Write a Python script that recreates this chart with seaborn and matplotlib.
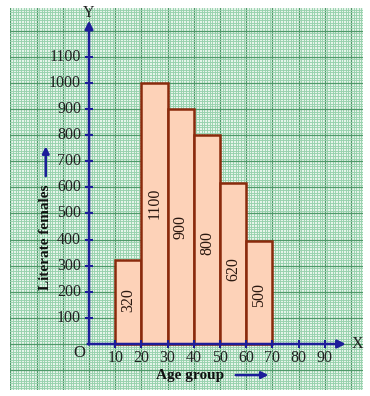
import matplotlib
matplotlib.use("Agg")
import matplotlib.pyplot as plt
import seaborn as sns
from matplotlib.ticker import MultipleLocator

# data
age_edges = [10, 20, 30, 40, 50, 60, 70]
bar_heights = [320, 1000, 900, 800, 615, 395]
bar_labels = ['320', '1100', '900', '800', '620', '500']
label_y = [169, 540, 448, 387, 287, 188]
y_ticks = [100, 200, 300, 400, 500, 600, 700, 800, 900, 1000, 1100]
x_ticks = [10, 20, 30, 40, 50, 60, 70, 80, 90]

plt.rcParams['font.family'] = ['Liberation Serif', 'DejaVu Serif']

navy = '#1d1d9a'
paper = '#e6f4ea'
minor_col = '#97d1ad'
major_col = '#4f9a6a'

W, H = 370, 396
fig = plt.figure(figsize=(W / 100, H / 100), dpi=100)
fig.patch.set_facecolor('white')
# graph paper region in pixels: x 10..363, y 8..390
ax = fig.add_axes([10 / W, 1 - 390 / H, 353 / W, 382 / H])

# pixel mapping: x=0 at px 89, 2.62 px per unit; y=0 at px 344, 0.2611 px per unit
ax.set_xlim((10 - 89) / 2.62, (363 - 89) / 2.62)
ax.set_ylim((344 - 390) / 0.2611, (344 - 8) / 0.2611)
ax.set_facecolor(paper)

# graph paper grid
ax.xaxis.set_major_locator(MultipleLocator(10))
ax.yaxis.set_major_locator(MultipleLocator(100))
ax.xaxis.set_minor_locator(MultipleLocator(1))
ax.yaxis.set_minor_locator(MultipleLocator(10))
ax.grid(which='minor', color=minor_col, lw=0.65, zorder=0)
ax.grid(which='major', color=major_col, lw=0.9, zorder=0)
ax.set_axisbelow(True)
ax.tick_params(which='both', length=0, labelbottom=False, labelleft=False)
for s in ax.spines.values():
    s.set_visible(False)

# histogram bars
mids = [(a + b) / 2 for a, b in zip(age_edges[:-1], age_edges[1:])]
sns.histplot(x=mids, weights=bar_heights, bins=age_edges, ax=ax,
             color='#fdd2b8', edgecolor='#8a2a0c', linewidth=1.8,
             alpha=1, zorder=3)
ax.set_xlabel('')
ax.set_ylabel('')

for m, lab, ly in zip(mids, bar_labels, label_y):
    ax.text(m, ly, lab, rotation=90, ha='center', va='center',
            fontsize=11.5, color='#2a1810', zorder=5)

# axes with arrows
ax.annotate('', xy=(0, 1238), xytext=(0, -2),
            arrowprops=dict(arrowstyle='-|>', color=navy, lw=1.8,
                            mutation_scale=12, shrinkA=0, shrinkB=0), zorder=6)
ax.annotate('', xy=(98, 0), xytext=(-0.5, 0),
            arrowprops=dict(arrowstyle='-|>', color=navy, lw=1.8,
                            mutation_scale=12, shrinkA=0, shrinkB=0), zorder=6)
ax.text(0, 1266, 'Y', ha='center', va='center', fontsize=11.5, color='#222222')
ax.text(102.5, 0, 'X', ha='center', va='center', fontsize=11.5, color='#222222')
ax.text(-3.6, -36, 'O', ha='center', va='center', fontsize=12, color='#222222')

# tick crosses and labels
ax.scatter([0] * len(y_ticks), y_ticks, marker='_', s=40, color=navy,
           linewidths=1.5, zorder=7)
ax.scatter(x_ticks, [0] * len(x_ticks), marker='|', s=40, color=navy,
           linewidths=1.5, zorder=7)
for t in y_ticks:
    ax.text(-3.0, t, str(t), ha='right', va='center', fontsize=11.5, color='#222222')
for t in x_ticks:
    ax.text(t, -54, str(t), ha='center', va='center', fontsize=11.5, color='#222222')

# axis titles with arrows
ax.text(-16.5, 408, 'Literate females', rotation=90, ha='center', va='center',
        fontsize=11, fontweight='bold', color='#111111')
ax.annotate('', xy=(-16.5, 757), xytext=(-16.5, 643),
            arrowprops=dict(arrowstyle='-|>', color=navy, lw=1.8,
                            mutation_scale=10, shrinkA=0, shrinkB=0))
ax.text(38.5, -119, 'Age group', ha='center', va='center',
        fontsize=11, fontweight='bold', color='#111111')
ax.annotate('', xy=(68.5, -119), xytext=(56, -119),
            arrowprops=dict(arrowstyle='-|>', color=navy, lw=1.8,
                            mutation_scale=10, shrinkA=0, shrinkB=0))

fig.savefig('out.png', dpi=100, facecolor='white')
